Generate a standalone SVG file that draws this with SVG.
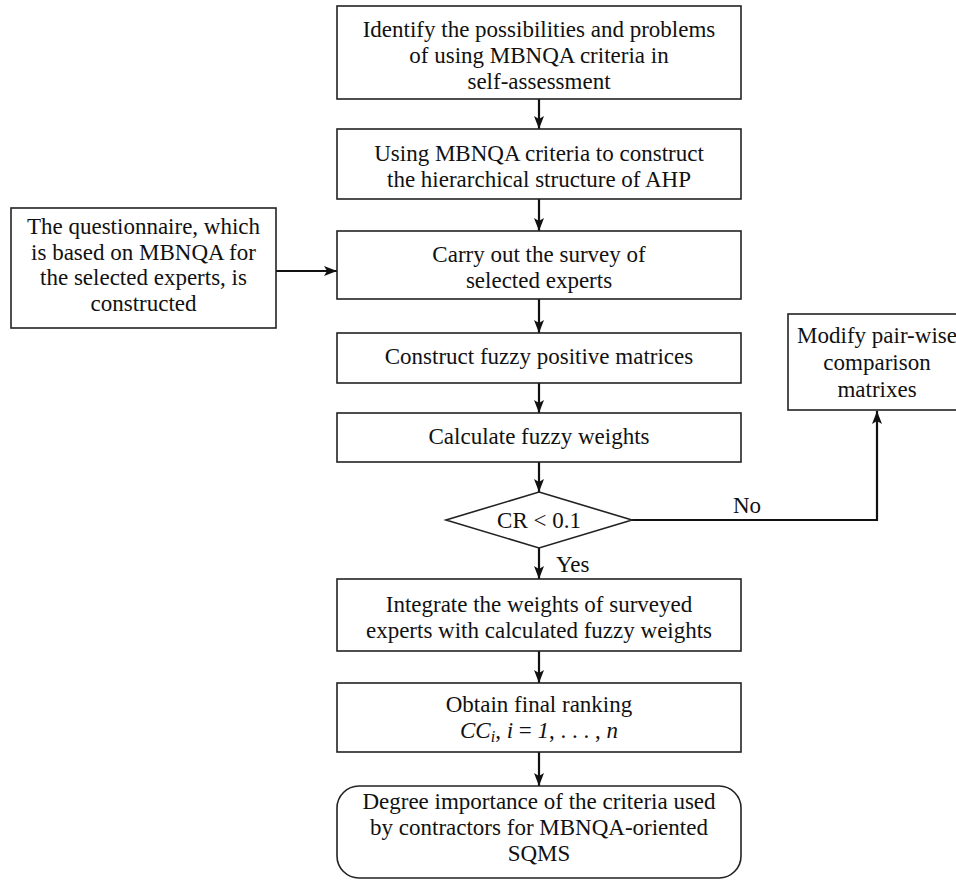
<svg xmlns="http://www.w3.org/2000/svg" width="956" height="881" viewBox="0 0 956 881">
<style>
.box{fill:#fff;stroke:#222;stroke-width:1.6}
.t{font-family:"Liberation Serif","Times New Roman",serif;font-size:23px;fill:#111;text-anchor:middle}
.lbl{font-family:"Liberation Serif","Times New Roman",serif;font-size:23px;fill:#111}
.c{fill:none;stroke:#111;stroke-width:2.2}
.it{font-style:italic}
</style>
<defs>
<marker id="ah" markerUnits="userSpaceOnUse" markerWidth="14" markerHeight="12" refX="13" refY="5" orient="auto">
<path d="M0,0 L13,5 L0,10 L3,5 z" fill="#111"/>
</marker>
</defs>
<rect width="956" height="881" fill="#fff"/>
<g id="connectors">
<line class="c" x1="539" y1="99" x2="539" y2="129" marker-end="url(#ah)"/>
<line class="c" x1="539" y1="199" x2="539" y2="231" marker-end="url(#ah)"/>
<line class="c" x1="276" y1="271" x2="337" y2="271" marker-end="url(#ah)"/>
<line class="c" x1="539" y1="299" x2="539" y2="333" marker-end="url(#ah)"/>
<line class="c" x1="539" y1="383" x2="539" y2="413" marker-end="url(#ah)"/>
<line class="c" x1="539" y1="462" x2="539" y2="492" marker-end="url(#ah)"/>
<polyline class="c" points="632,520 877,520 877,411" marker-end="url(#ah)"/>
<line class="c" x1="539" y1="548" x2="539" y2="579" marker-end="url(#ah)"/>
<line class="c" x1="539" y1="651" x2="539" y2="683" marker-end="url(#ah)"/>
<line class="c" x1="539" y1="752" x2="539" y2="786" marker-end="url(#ah)"/>
<text class="lbl" x="733" y="513">No</text>
<text class="lbl" x="556" y="572">Yes</text>
</g>
<g id="identify">
<rect class="box" x="337" y="6" width="404" height="93"/>
<text class="t" x="539" y="37">Identify the possibilities and problems</text>
<text class="t" x="539" y="63">of using MBNQA criteria in</text>
<text class="t" x="539" y="89">self-assessment</text>
</g>
<g id="construct-ahp">
<rect class="box" x="337" y="129" width="404" height="70"/>
<text class="t" x="539" y="161">Using MBNQA criteria to construct</text>
<text class="t" x="539" y="187">the hierarchical structure of AHP</text>
</g>
<g id="questionnaire">
<rect class="box" x="11" y="208" width="265" height="120"/>
<text class="t" x="143.5" y="234">The questionnaire, which</text>
<text class="t" x="143.5" y="260">is based on MBNQA for</text>
<text class="t" x="143.5" y="285">the selected experts, is</text>
<text class="t" x="143.5" y="311">constructed</text>
</g>
<g id="survey">
<rect class="box" x="337" y="231" width="404" height="68"/>
<text class="t" x="539" y="262">Carry out the survey of</text>
<text class="t" x="539" y="288">selected experts</text>
</g>
<g id="fuzzy-matrices">
<rect class="box" x="337" y="333" width="404" height="50"/>
<text class="t" x="539" y="364">Construct fuzzy positive matrices</text>
</g>
<g id="fuzzy-weights">
<rect class="box" x="337" y="413" width="404" height="49"/>
<text class="t" x="539" y="444">Calculate fuzzy weights</text>
</g>
<g id="modify">
<rect class="box" x="788" y="314" width="180" height="96"/>
<text class="t" x="877" y="343">Modify pair-wise</text>
<text class="t" x="877" y="370">comparison</text>
<text class="t" x="877" y="397">matrixes</text>
</g>
<g id="decision">
<polygon class="box" points="539,492 632,520 539,548 446,520"/>
<text class="t" x="539" y="528">CR &lt; 0.1</text>
</g>
<g id="integrate">
<rect class="box" x="337" y="579" width="404" height="72"/>
<text class="t" x="539" y="612">Integrate the weights of surveyed</text>
<text class="t" x="539" y="638">experts with calculated fuzzy weights</text>
</g>
<g id="ranking">
<rect class="box" x="337" y="683" width="404" height="69"/>
<text class="t" x="539" y="712">Obtain final ranking</text>
<text class="t" x="539" y="738"><tspan class="it">CC</tspan><tspan class="it" font-size="16" dy="4">i</tspan><tspan dy="-4">, </tspan><tspan class="it">i</tspan> = <tspan class="it">1</tspan>, . . . , <tspan class="it">n</tspan></text>
</g>
<g id="result">
<rect class="box" x="337" y="786" width="404" height="92" rx="22" ry="22"/>
<text class="t" x="539" y="809">Degree importance of the criteria used</text>
<text class="t" x="539" y="835">by contractors for MBNQA-oriented</text>
<text class="t" x="539" y="861">SQMS</text>
</g>
</svg>
